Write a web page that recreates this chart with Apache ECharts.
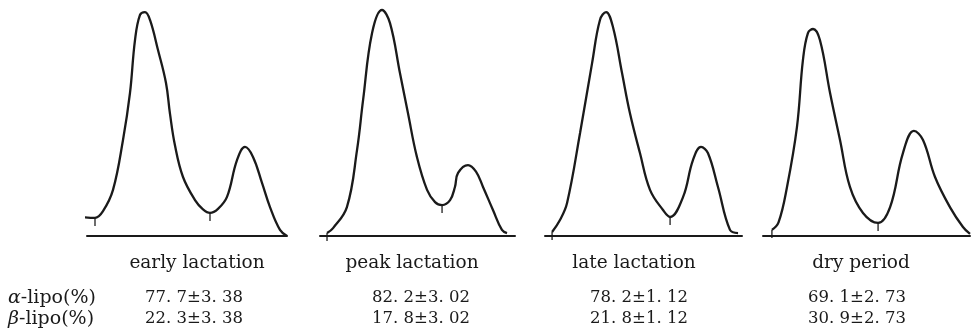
<!DOCTYPE html>
<html>
<head>
<meta charset="utf-8">
<script src="https://cdn.jsdelivr.net/npm/echarts@6/dist/echarts.min.js"></script>
<style>html,body{margin:0;padding:0;background:#fff;}#c{width:971px;height:335px;}</style>
</head>
<body>
<div id="c"></div>
<script>
// ---- data ----
const categories = ['early lactation', 'peak lactation', 'late lactation', 'dry period'];
const alphaMean = [77.7, 82.2, 78.2, 69.1];
const betaMean = [22.3, 17.8, 21.8, 30.9];
const sdValues = [3.38, 3.02, 1.12, 2.73];
const rowNames = ['α', 'β'];

// densitometric scans: [migration position (% of strip), relative density]
const earlyScan = [[-2.5,8.4],[4,8],[8,11],[13,20.4],[18,42.5],[21.5,63.3],[24,86.7],[26.5,97.8],[29,99.1],[31.5,95.6],[35.5,82.3],[39.5,67.7],[41.5,54],[44,40],[48,26.1],[54,15.9],[58,11.8],[61.5,10.2],[65.5,12],[70,17.3],[75,33.6],[79,39.4],[83,35],[87.5,23.5],[91.5,12.8],[96.5,2.7],[100,0]];
const peakScan = [[3.6,1.3],[6.7,3.5],[13.8,12.8],[19,38.1],[22.1,60.2],[26.7,89.8],[31.8,100],[35.9,94.2],[41,72.1],[45.1,54.4],[49.7,35],[54.9,20.4],[59,15],[62.6,13.7],[66.7,15.9],[69.2,21.7],[70.8,27.9],[75.9,31.4],[80,28.5],[83.6,21.7],[88.7,11.5],[93.3,2.7],[95.9,1.3]];
const lateScan = [[3.6,1.8],[7.6,7.1],[11.2,14.6],[17.8,45.6],[23.9,76.5],[27.9,95.6],[31,99.1],[34.5,92.5],[39.1,72.1],[43.1,54.4],[48.2,36.7],[53.3,20.4],[59.9,11.5],[63.5,8.4],[70.1,17.3],[75.1,33.6],[79.2,39.4],[82.7,36.7],[87.8,21.7],[93.9,2.7],[98,1.3]];
const dryScan = [[4.3,2.7],[7.5,6],[11.6,21.7],[16.4,48.2],[19.3,77.9],[21.7,89.8],[24.2,91.6],[27.5,86.7],[32.4,63.3],[37.2,42.5],[42,21.7],[48.3,10.2],[55.6,5.8],[61.4,12.8],[67.6,36.7],[72.9,46.5],[77.3,42.5],[83.1,26.1],[90.3,12.8],[96.6,4],[100,0.9]];
const scans = [earlyScan, peakScan, lateScan, dryScan];
// indices of cut marks (start of scan, valley between fractions)
const cutIdx = [[1, 17], [0, 13], [0, 13], [0, 12]];

// ---- layout ----
const gridLeft = [87, 320, 545, 763];
const gridWidth = [200, 195, 197, 207];
const labelX = [197, 412, 634, 861];
const numX = [194, 421, 639, 857];
const FONT = '"DejaVu Serif", serif';
const ink = '#1a1a1a';

const fmt = v => v.toFixed(1).replace('.', '. ');
const fmtSd = v => v.toFixed(2).replace('.', '. ');

const grids = [], xAxes = [], yAxes = [], series = [];
scans.forEach((scan, i) => {
  grids.push({left: gridLeft[i], width: gridWidth[i], top: 10, bottom: 99});
  xAxes.push({type: 'value', gridIndex: i, min: 0, max: 100,
    axisLine: {show: true, onZero: true, lineStyle: {color: ink, width: 2}},
    axisTick: {show: false}, axisLabel: {show: false}, splitLine: {show: false}});
  yAxes.push({type: 'value', gridIndex: i, min: 0, max: 100, show: false, splitLine: {show: false}});
  series.push({type: 'line', xAxisIndex: i, yAxisIndex: i, data: scan, smooth: 0.4,
    showSymbol: false, symbol: 'none', clip: false, animation: false,
    lineStyle: {color: ink, width: 2.3}});
  series.push({type: 'scatter', xAxisIndex: i, yAxisIndex: i, clip: false, animation: false,
    data: cutIdx[i].map(k => scan[k]), symbol: 'rect', symbolSize: [1.6, 8], symbolOffset: [0, 4],
    itemStyle: {color: ink}});
});

const graphic = [];
categories.forEach((c, i) => {
  graphic.push({type: 'text', x: labelX[i], y: 263,
    style: {text: c, font: '18.5px ' + FONT, fill: ink, align: 'center', verticalAlign: 'middle'}});
  graphic.push({type: 'text', x: numX[i], y: 298,
    style: {text: fmt(alphaMean[i]) + '±' + fmtSd(sdValues[i]), font: '16.5px ' + FONT, fill: ink, align: 'center', verticalAlign: 'middle'}});
  graphic.push({type: 'text', x: numX[i], y: 319,
    style: {text: fmt(betaMean[i]) + '±' + fmtSd(sdValues[i]), font: '16.5px ' + FONT, fill: ink, align: 'center', verticalAlign: 'middle'}});
});
rowNames.forEach((g, r) => {
  graphic.push({type: 'text', x: 8, y: r === 0 ? 298 : 319,
    style: {text: '{g|' + g + '}-lipo(%)', font: '19px ' + FONT, fill: ink, align: 'left', verticalAlign: 'middle',
      rich: {g: {fontStyle: 'italic', fontFamily: '"DejaVu Serif", serif', fontSize: 19, fill: ink, color: ink}}}});
});

const chart = echarts.init(document.getElementById('c'), null, {renderer: 'canvas'});
chart.setOption({animation: false, backgroundColor: '#fff', grid: grids, xAxis: xAxes, yAxis: yAxes, series, graphic});
</script>
</body>
</html>
